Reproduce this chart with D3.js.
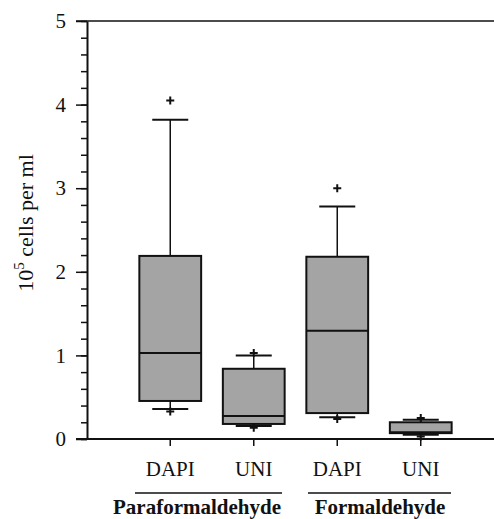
<!DOCTYPE html>
<html>
<head>
<meta charset="utf-8">
<script src="https://cdnjs.cloudflare.com/ajax/libs/d3/7.8.5/d3.min.js"></script>
<style>
  body { margin: 0; background: #fff; }
  svg text { font-family: "Liberation Serif", "DejaVu Serif", serif !important; fill: #111; }
</style>
</head>
<body>
<div id="chart"></div>
<script>
// categories along x, with the fixative group each belongs to
var categories = ["DAPI", "UNI", "DAPI ", "UNI "]
var groups = ["Paraformaldehyde", "Paraformaldehyde", "Formaldehyde", "Formaldehyde"]

// box statistics (10^5 cells per ml)
var whiskerLow  = [0.36, 0.155, 0.26, 0.05]
var q1          = [0.455, 0.18, 0.31, 0.07]
var median      = [1.03, 0.275, 1.295, 0.08]
var q3          = [2.19, 0.84, 2.18, 0.20]
var whiskerHigh = [3.82, 1.00, 2.78, 0.23]
var outliers    = [[4.05, 0.33], [1.03, 0.135], [3.0, 0.24], [0.25, 0.03]]

var yTicks = [0, 1, 2, 3, 4, 5]
var yMinor = d3.range(0, 5.01, 0.2)

var width = 494, height = 519
var serif = "'Liberation Serif', 'DejaVu Serif', serif"

var svg = d3.select("#chart")
  .append("svg")
  .attr("width", width)
  .attr("height", height)

var y = d3.scaleLinear()
  .domain([0, 5])
  .range([439, 21])

var x = d3.scaleBand()
  .domain(categories)
  .range([128.5, 462.5])

var boxW = x.bandwidth() * 0.74
var cx = d => x(d) + x.bandwidth() / 2

// minor ticks
svg.append("g")
  .attr("transform", "translate(87,0)")
  .call(d3.axisLeft(y).tickValues(yMinor).tickSize(6).tickFormat(""))
  .call(g => g.select(".domain").remove())
  .selectAll("line").attr("stroke", "#111").attr("stroke-width", 1.5)

// major ticks + labels
var yAxis = svg.append("g")
  .attr("transform", "translate(87,0)")
  .call(d3.axisLeft(y).tickValues(yTicks).tickSize(11).tickPadding(10)
    .tickSizeOuter(0).tickFormat(d3.format("d")))
yAxis.attr("font-family", serif).attr("font-size", 21)
yAxis.select(".domain").attr("stroke", "#111").attr("stroke-width", 2)
yAxis.selectAll("line").attr("stroke", "#111").attr("stroke-width", 1.5)
yAxis.selectAll("text").attr("fill", "#111")

// top frame line
svg.append("line")
  .attr("x1", 76).attr("x2", width)
  .attr("y1", y(5)).attr("y2", y(5))
  .attr("stroke", "#111").attr("stroke-width", 1.5)

// x axis
var xAxis = svg.append("g")
  .attr("transform", "translate(0," + y(0) + ")")
  .call(d3.axisBottom(x).tickSize(7).tickSizeOuter(0).tickFormat(""))
xAxis.select(".domain").attr("d", "M76,0H" + width).attr("stroke", "#111").attr("stroke-width", 2)
xAxis.selectAll("line").attr("stroke", "#111").attr("stroke-width", 1.5)

// boxes
var box = svg.append("g").selectAll("g")
  .data(categories)
  .enter()
  .append("g")

box.append("line")
  .attr("x1", cx).attr("x2", cx)
  .attr("y1", (d, i) => y(whiskerHigh[i]))
  .attr("y2", (d, i) => y(whiskerLow[i]))
  .attr("stroke", "#111").attr("stroke-width", 1.5)

box.append("rect")
  .attr("x", d => cx(d) - boxW / 2)
  .attr("width", boxW)
  .attr("y", (d, i) => y(q3[i]))
  .attr("height", (d, i) => y(q1[i]) - y(q3[i]))
  .attr("fill", "#a4a4a4")
  .attr("stroke", "#111").attr("stroke-width", 2)

box.append("line")
  .attr("x1", d => cx(d) - boxW / 2).attr("x2", d => cx(d) + boxW / 2)
  .attr("y1", (d, i) => y(median[i])).attr("y2", (d, i) => y(median[i]))
  .attr("stroke", "#111").attr("stroke-width", 2)

// whisker caps
box.selectAll(".cap")
  .data((d, i) => [whiskerHigh[i], whiskerLow[i]].map(v => ({ c: d, v: v })))
  .enter()
  .append("line")
  .attr("x1", d => cx(d.c) - 18).attr("x2", d => cx(d.c) + 18)
  .attr("y1", d => y(d.v)).attr("y2", d => y(d.v))
  .attr("stroke", "#111").attr("stroke-width", 2)

// outliers as + marks
box.selectAll(".out")
  .data((d, i) => outliers[i].map(v => ({ c: d, v: v })))
  .enter()
  .append("path")
  .attr("d", d => "M" + (cx(d.c) - 4) + "," + y(d.v) + "h8M" + cx(d.c) + "," + (y(d.v) - 4) + "v8")
  .attr("stroke", "#111").attr("stroke-width", 2)

// category labels
svg.append("g").selectAll("text")
  .data(categories)
  .enter()
  .append("text")
  .attr("x", cx)
  .attr("y", 476)
  .attr("text-anchor", "middle")
  .attr("font-family", serif)
  .attr("font-size", 21)
  .text(d => d.trim())

// group underlines + labels
var groupNames = Array.from(new Set(groups))
var groupLines = [[135, 282], [308, 451]]
var labelNudge = [-15, 1]
groupNames.forEach(function(name, gi) {
  svg.append("line")
    .attr("x1", groupLines[gi][0]).attr("x2", groupLines[gi][1])
    .attr("y1", 493).attr("y2", 493)
    .attr("stroke", "#111").attr("stroke-width", 1.5)
  var members = categories.filter((c, i) => groups[i] == name)
  var mid = (cx(members[0]) + cx(members[members.length - 1])) / 2
  svg.append("text")
    .attr("x", mid + labelNudge[gi])
    .attr("y", 514)
    .attr("text-anchor", "middle")
    .attr("font-family", serif)
    .attr("font-size", 21)
    .attr("font-weight", "bold")
    .text(name)
})

// y axis label
var yl = svg.append("text")
  .attr("transform", "translate(33,223) rotate(-90)")
  .attr("text-anchor", "middle")
  .attr("font-family", serif)
  .attr("font-size", 22)
yl.append("tspan").text("10")
yl.append("tspan").attr("dy", -9).attr("font-size", 15).text("5")
yl.append("tspan").attr("dy", 9).text(" cells per ml")
</script>
</body>
</html>
